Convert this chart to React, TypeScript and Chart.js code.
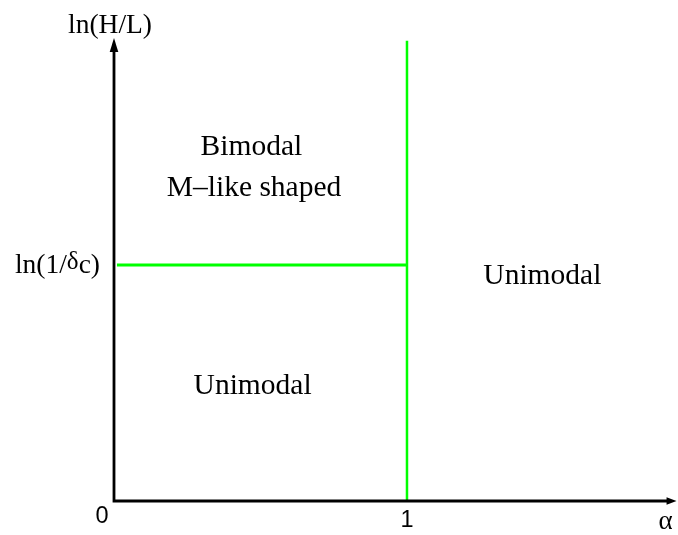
import React, { useEffect, useRef } from "react";
import { Chart, registerables } from "chart.js";

Chart.register(...registerables);

// ---- data ----
const xTickValues = [0, 1];
const xTickLabels = ["0", "1"];
const yTickValue = 1;
const yTickLabelParts = ["ln(1/", "δ", "c)"];
const xAxisTitle = "α";
const yAxisTitle = "ln(H/L)";
const xMin = 0;
const xMax = 1.925;
const yMin = 0;
const yMax = 2.0;
const xAxisEnd = 1.92;
const yAxisEnd = 1.962;
const horizontalBoundaryX = [0.01, 1];
const horizontalBoundaryY = [1, 1];
const verticalBoundaryX = [1, 1];
const verticalBoundaryY = [0, 1.95];
const regionLabels = ["Bimodal", "M–like shaped", "Unimodal", "Unimodal"];
const regionX = [0.469, 0.478, 1.462, 0.473];
const regionY = [1.466, 1.292, 0.919, 0.453];

const SERIF = '"Liberation Serif", "Times New Roman", serif';
const SANS = '"Liberation Sans", Arial, sans-serif';

const decorPlugin = {
  id: "phaseDecor",
  afterDatasetsDraw(chart: any) {
    const ctx = chart.ctx as CanvasRenderingContext2D;
    const xs = chart.scales.x;
    const ys = chart.scales.y;
    const x0 = xs.getPixelForValue(0);
    const y0 = ys.getPixelForValue(0);
    const xEnd = xs.getPixelForValue(xAxisEnd);
    const yEnd = ys.getPixelForValue(yAxisEnd);
    ctx.save();
    // axes
    ctx.strokeStyle = "#000";
    ctx.fillStyle = "#000";
    ctx.lineWidth = 2.8;
    ctx.lineCap = "butt";
    ctx.beginPath();
    ctx.moveTo(x0, y0);
    ctx.lineTo(x0, yEnd + 10);
    ctx.moveTo(x0 - 1.4, y0);
    ctx.lineTo(xEnd - 6, y0);
    ctx.stroke();
    // arrow heads
    ctx.beginPath();
    ctx.moveTo(x0, yEnd);
    ctx.lineTo(x0 - 4.3, yEnd + 14);
    ctx.lineTo(x0 + 4.3, yEnd + 14);
    ctx.closePath();
    ctx.fill();
    ctx.beginPath();
    ctx.moveTo(xEnd, y0);
    ctx.lineTo(xEnd - 10, y0 - 3.8);
    ctx.lineTo(xEnd - 10, y0 + 3.8);
    ctx.closePath();
    ctx.fill();

    // x tick labels
    ctx.font = `23.5px ${SANS}`;
    ctx.textAlign = "center";
    ctx.textBaseline = "alphabetic";
    xTickValues.forEach((v, i) => {
      const px = xs.getPixelForValue(v);
      if (v === 0) {
        ctx.fillText(xTickLabels[i], px - 12, y0 + 22);
      } else {
        ctx.fillText(xTickLabels[i], px, y0 + 25.5);
      }
    });
    // x title
    ctx.font = `27px ${SERIF}`;
    ctx.fillText(xAxisTitle, xEnd - 11, y0 + 28);

    // y title
    ctx.font = `27.5px ${SERIF}`;
    ctx.fillText(yAxisTitle, x0 - 4, yEnd - 5);

    // y tick label (right aligned)
    const yp = ys.getPixelForValue(yTickValue);
    const fontMain = `27.5px ${SERIF}`;
    const fontDelta = `25px ${SERIF}`;
    ctx.textAlign = "left";
    ctx.font = fontMain;
    const w1 = ctx.measureText(yTickLabelParts[0]).width;
    const w3 = ctx.measureText(yTickLabelParts[2]).width;
    ctx.font = fontDelta;
    const w2 = ctx.measureText(yTickLabelParts[1]).width;
    const right = x0 - 14;
    const startX = right - (w1 + w2 + w3);
    const base = yp + 8;
    ctx.font = fontMain;
    ctx.fillText(yTickLabelParts[0], startX, base);
    ctx.font = fontDelta;
    ctx.fillText(yTickLabelParts[1], startX + w1, base - 4);
    ctx.font = fontMain;
    ctx.fillText(yTickLabelParts[2], startX + w1 + w2, base);

    // region labels
    ctx.font = `29.5px ${SERIF}`;
    ctx.textAlign = "center";
    regionLabels.forEach((t, i) => {
      ctx.fillText(t, xs.getPixelForValue(regionX[i]), ys.getPixelForValue(regionY[i]));
    });
    ctx.restore();
  },
};

export default function App() {
  const ref = useRef<HTMLCanvasElement | null>(null);
  useEffect(() => {
    if (!ref.current) return;
    const chart = new Chart(ref.current, {
      type: "scatter",
      data: {
        datasets: [
          {
            label: "boundary δc",
            data: horizontalBoundaryX.map((x, i) => ({ x, y: horizontalBoundaryY[i] })),
            showLine: true,
            borderColor: "#00ff00",
            borderWidth: 2.8,
            pointRadius: 0,
            fill: false,
          },
          {
            label: "boundary α=1",
            data: verticalBoundaryX.map((x, i) => ({ x, y: verticalBoundaryY[i] })),
            showLine: true,
            borderColor: "#00ff00",
            borderWidth: 2.5,
            pointRadius: 0,
            fill: false,
          },
        ],
      },
      options: {
        animation: false,
        responsive: false,
        maintainAspectRatio: false,
        layout: { padding: { left: 114, right: 0, top: 29, bottom: 34 } },
        plugins: { legend: { display: false }, tooltip: { enabled: false } },
        scales: {
          x: { type: "linear", min: xMin, max: xMax, display: false },
          y: { type: "linear", min: yMin, max: yMax, display: false },
        },
      },
      plugins: [decorPlugin],
    });
    return () => chart.destroy();
  }, []);
  return (
    <div style={{ position: "fixed", left: 0, top: 0, width: 678, height: 535, background: "#fff" }}>
      <canvas ref={ref} width={678} height={535} style={{ width: 678, height: 535, display: "block" }} />
    </div>
  );
}
